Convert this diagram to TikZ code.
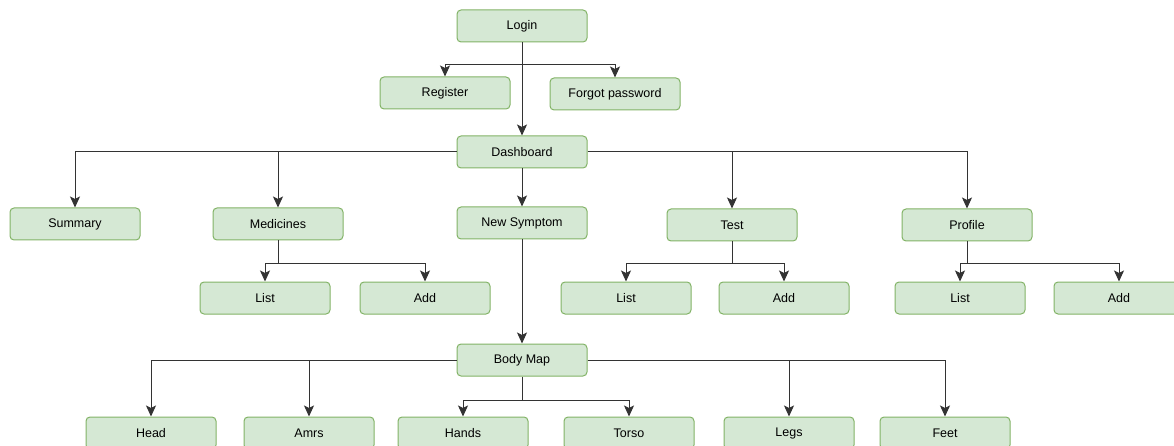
\documentclass[tikz,border=0pt]{standalone}
\usepackage{fontspec}
\setmainfont{Liberation Sans}
\usetikzlibrary{arrows.meta}
\definecolor{boxFill}{HTML}{D5E8D4}
\definecolor{boxLine}{HTML}{82B366}
\tikzset{menu box/.style={draw=boxLine, fill=boxFill, rounded corners=4pt, minimum width=130pt, minimum height=32pt, inner sep=0pt, line width=1pt, font=\fontsize{12.5}{14}\selectfont}}
\tikzset{link/.style={draw=black!80, line width=1pt}}
\tikzset{link arrow/.style={link, -{Stealth[length=11pt, width=10pt, inset=2.5pt]}}}

\begin{document}
\begin{tikzpicture}[x=1pt, y=-1pt]
    \useasboundingbox (0,0) rectangle (1174,446);

    % Globals
    \pgfmathsetmacro{\midX}{522}
    \pgfmathsetmacro{\subY}{298}

    % Login level
    \node[menu box] (login) at (\midX, 26) {Login};
    \node[menu box] (register) at (445, 93) {Register};
    \node[menu box] (forgot) at (615, 94) {Forgot password};
    \coordinate (LOGIN_FORK) at (\midX, 65);
    \draw[link arrow] (LOGIN_FORK) -| (register);
    \draw[link arrow] (LOGIN_FORK) -| (forgot);

    % Dashboard level
    \node[menu box] (dashboard) at (\midX, 152) {Dashboard};
    \draw[link arrow] (login) -- (dashboard);

    \node[menu box] (summary) at (75, 224) {Summary};
    \node[menu box] (medicines) at (278, 224) {Medicines};
    \node[menu box] (newSymptom) at (\midX, 223) {New Symptom};
    \node[menu box] (test) at (732, 225) {Test};
    \node[menu box] (profile) at (967, 225) {Profile};

    \draw[link arrow] (dashboard.west) -| (summary);
    \draw[link arrow] (dashboard.west) -| (medicines);
    \draw[link arrow] (dashboard) -- (newSymptom);
    \draw[link arrow] (dashboard.east) -| (test);
    \draw[link arrow] (dashboard.east) -| (profile);

    % Medicines
    \node[menu box] (medList) at (265, \subY) {List};
    \node[menu box] (medAdd) at (425, \subY) {Add};
    \coordinate (MED_FORK) at (278, 263);
    \draw[link] (medicines) -- (MED_FORK);
    \draw[link arrow] (MED_FORK) -| (medList);
    \draw[link arrow] (MED_FORK) -| (medAdd);

    % Test
    \node[menu box] (testList) at (626, \subY) {List};
    \node[menu box] (testAdd) at (784, \subY) {Add};
    \coordinate (TEST_FORK) at (732, 263);
    \draw[link] (test) -- (TEST_FORK);
    \draw[link arrow] (TEST_FORK) -| (testList);
    \draw[link arrow] (TEST_FORK) -| (testAdd);

    % Profile
    \node[menu box] (profList) at (960, \subY) {List};
    \node[menu box] (profAdd) at (1119, \subY) {Add};
    \coordinate (PROF_FORK) at (967, 263);
    \draw[link] (profile) -- (PROF_FORK);
    \draw[link arrow] (PROF_FORK) -| (profList);
    \draw[link arrow] (PROF_FORK) -| (profAdd);

    % Body map
    \node[menu box] (bodyMap) at (\midX, 360) {Body Map};
    \draw[link arrow] (newSymptom) -- (bodyMap);

    \node[menu box] (head) at (151, 433) {Head};
    \node[menu box] (arms) at (309, 433) {Amrs};
    \node[menu box] (hands) at (463, 433) {Hands};
    \node[menu box] (torso) at (629, 433) {Torso};
    \node[menu box] (legs) at (789, 433) {Legs};
    \node[menu box] (feet) at (945, 433) {Feet};

    \draw[link arrow] (bodyMap.west) -| (head);
    \draw[link arrow] (bodyMap.west) -| (arms);
    \draw[link arrow] (bodyMap.east) -| (legs);
    \draw[link arrow] (bodyMap.east) -| (feet);
    \coordinate (BODY_FORK) at (\midX, 400);
    \draw[link] (bodyMap) -- (BODY_FORK);
    \draw[link arrow] (BODY_FORK) -| (hands);
    \draw[link arrow] (BODY_FORK) -| (torso);

\end{tikzpicture}
\end{document}
